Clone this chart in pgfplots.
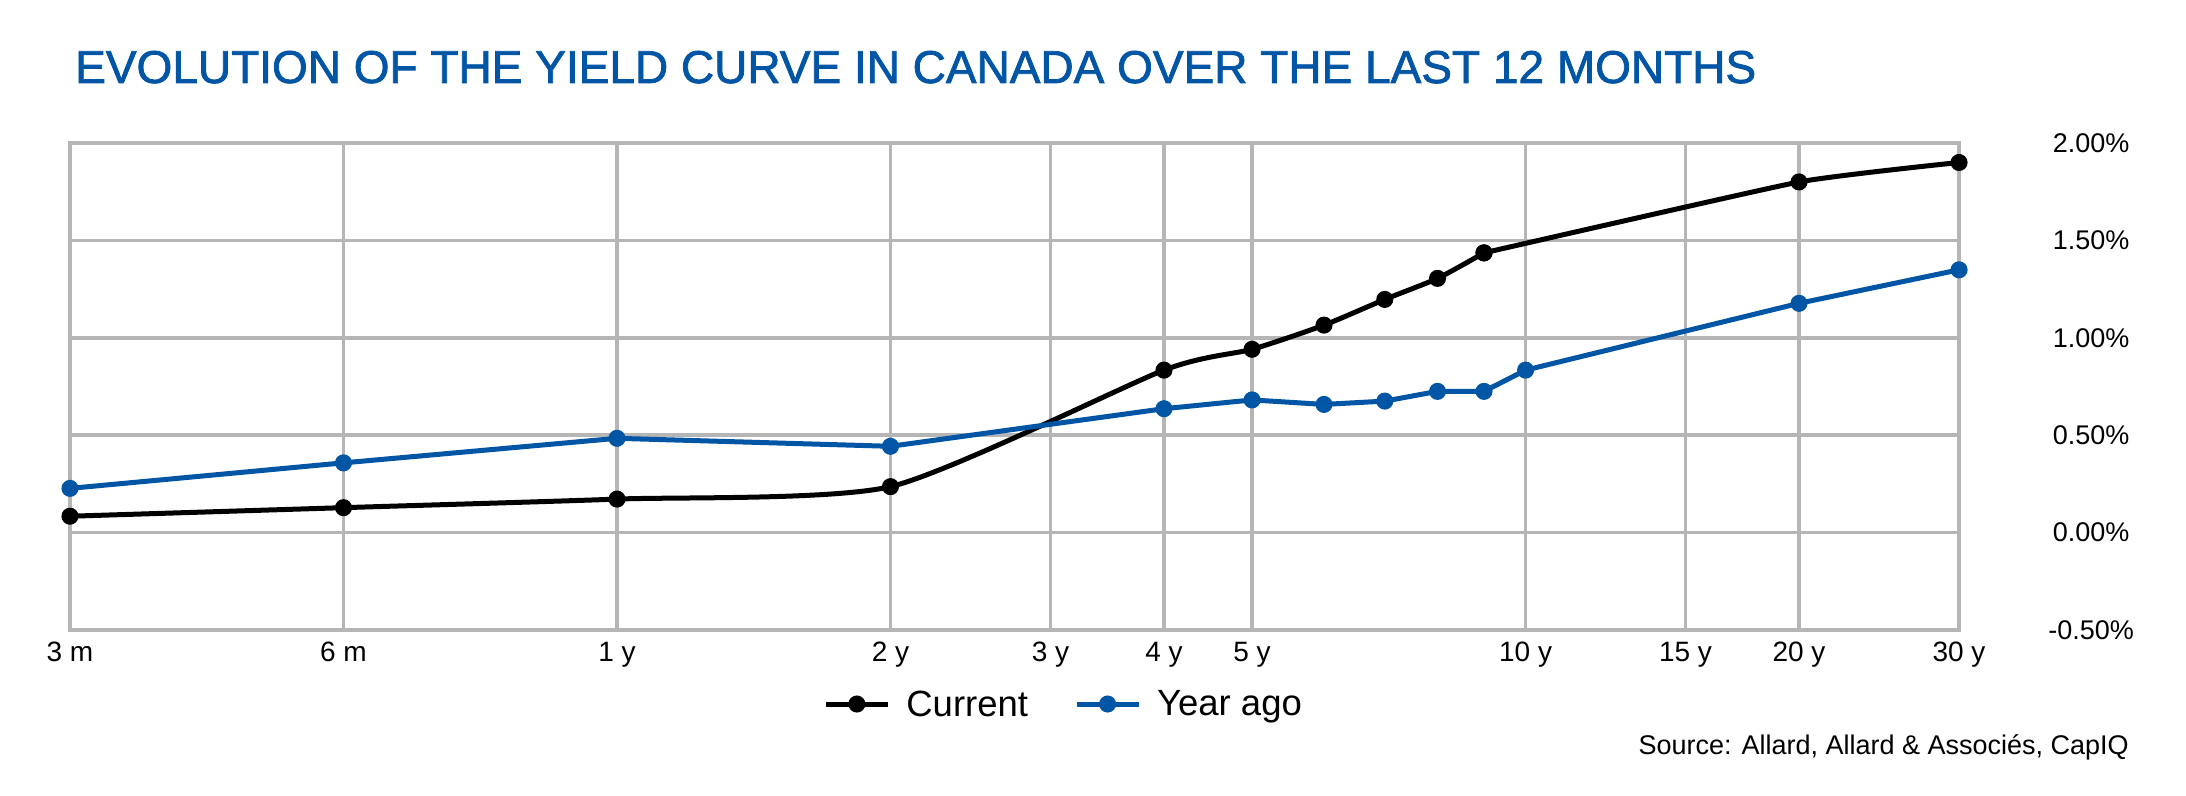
\documentclass[border=0pt]{standalone}
\usepackage{pgfplots}
\pgfplotsset{compat=1.18}
\usepackage{fontspec}
\setmainfont{Liberation Sans}
\definecolor{ttlblue}{RGB}{0,85,165}
\definecolor{gridgray}{RGB}{182,182,182}
\begin{document}
\begin{tikzpicture}
\useasboundingbox (0pt,0pt) rectangle (2186pt,795pt);
\node[anchor=base west, inner sep=0pt, text=ttlblue, font=\fontsize{46}{50}\selectfont\addfontfeature{FakeBold=1.6}] at (75pt,712pt) {EVOLUTION OF THE YIELD CURVE IN CANADA OVER THE LAST 12 MONTHS};
\begin{axis}[
  at={(70pt,165pt)}, anchor=south west,
  scale only axis, width=1889pt, height=487pt,
  xmode=log, xmin=0.25, xmax=30,
  ymin=-0.5, ymax=2,
  xtick={0.25,0.5,1,2,3,4,5,10,15,20,30},
  xticklabels={3 m,6 m,1 y,2 y,3 y,4 y,5 y,10 y,15 y,20 y,30 y},
  ytick={-0.5,0,0.5,1,1.5,2},
  yticklabels={-0.50\%,0.00\%,0.50\%,1.00\%,1.50\%,2.00\%},
  yticklabel pos=right,
  minor tick num=0,
  log ticks with fixed point,
  major tick length=0pt,
  grid=major,
  grid style={gridgray, line width=3.5pt},
  axis line style={gridgray, line width=4pt},
  xticklabel style={font=\fontsize{28}{30}\selectfont, anchor=base, yshift=-31pt},
  yticklabel style={font=\fontsize{27}{30}\selectfont, anchor=center, xshift=132pt},
  clip=false,
  legend style={at={(0.526,-0.152)}, anchor=center, draw=none, fill=none,
    font=\fontsize{36.5}{40}\selectfont, legend columns=2,
    /tikz/every odd column/.append style={column sep=14pt},
    /tikz/every even column/.append style={column sep=44pt}},
  legend cell align=left,
  legend image code/.code={\draw[mark repeat=2, mark phase=2] plot coordinates {(0pt,0pt) (31pt,0pt) (62pt,0pt)};},
]
\addplot[black, line width=5pt, smooth, tension=0.38, mark=*, mark size=6pt, mark options={solid}] coordinates {
(0.25,0.084) (0.5,0.128) (1,0.172) (2,0.236) (4,0.834) (5,0.941) (6,1.065) (7,1.197) (8,1.305) (9,1.436)};
\addlegendentry{Current}
\addplot[ttlblue, line width=5pt, sharp plot, mark=*, mark size=6pt, mark options={solid}] coordinates {
(0.25,0.227) (0.5,0.358) (1,0.484) (2,0.443) (4,0.636) (5,0.681) (6,0.658) (7,0.675) (8,0.725) (9,0.725) (10,0.834) (20,1.177) (30,1.349)};
\addlegendentry{Year ago}
\addplot[black, line width=5pt, smooth, tension=0.25, mark=*, mark size=6pt, mark options={solid}, forget plot] coordinates {
(9,1.436) (20,1.80) (30,1.90)};
\end{axis}
\node[anchor=base east, inner sep=0pt, font=\fontsize{27}{30}\selectfont] at (2129pt,41pt) {Source: Allard, Allard \& Associés, CapIQ};
\end{tikzpicture}
\end{document}
